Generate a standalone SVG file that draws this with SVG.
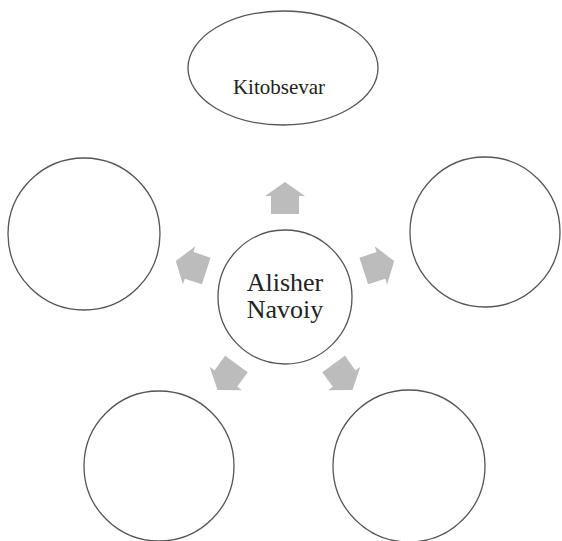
<svg xmlns="http://www.w3.org/2000/svg" width="562" height="541" viewBox="0 0 562 541">
<style>
.node{fill:#fff;stroke:#555;stroke-width:1.3}
.arr{fill:#bcbcbc}
.t{font-family:"Liberation Serif","Times New Roman",serif;fill:#222;text-anchor:middle}
</style>
<defs>
<path id="a" d="M0,-16 L20,-2 L14,-2 L14,16 L-14,16 L-14,-2 L-20,-2 Z"/>
</defs>
<rect width="562" height="541" fill="#fff"/>
<g id="connectors">
<use href="#a" class="arr" transform="translate(285,198)"/>
<use href="#a" class="arr" transform="translate(379,266) rotate(72)"/>
<use href="#a" class="arr" transform="translate(343,377) rotate(144)"/>
<use href="#a" class="arr" transform="translate(227,377) rotate(216)"/>
<use href="#a" class="arr" transform="translate(191,266) rotate(288)"/>
</g>
<g id="center">
<circle class="node" cx="285" cy="297" r="67"/>
<text class="t" x="285" y="291" font-size="26">Alisher</text>
<text class="t" x="285" y="318" font-size="26">Navoiy</text>
</g>
<g id="top">
<ellipse class="node" cx="283" cy="68" rx="95" ry="57"/>
<text class="t" x="279" y="94" font-size="21">Kitobsevar</text>
</g>
<g id="right"><circle class="node" cx="485" cy="232" r="75"/></g>
<g id="left"><circle class="node" cx="84" cy="234" r="76"/></g>
<g id="bottom-left"><circle class="node" cx="159" cy="466" r="75"/></g>
<g id="bottom-right"><circle class="node" cx="409" cy="466" r="76"/></g>
</svg>
